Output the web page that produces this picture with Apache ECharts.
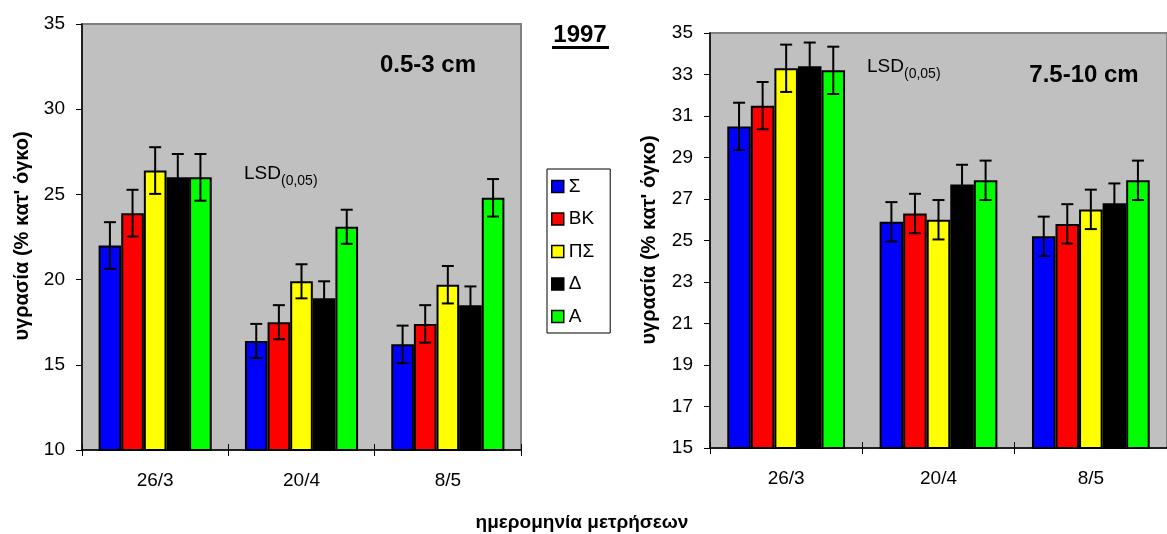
<!DOCTYPE html>
<html>
<head>
<meta charset="utf-8">
<script src="https://cdn.jsdelivr.net/npm/echarts@6/dist/echarts.min.js"></script>
<style>
html,body{margin:0;padding:0;background:#fff;}
#main{width:1167px;height:534px;}
</style>
</head>
<body>
<div id="main"></div>
<script>
// ---- data ----
const categories = ['26/3', '20/4', '8/5'];
const seriesNames = ['Σ', 'ΒΚ', 'ΠΣ', 'Δ', 'Α'];
const seriesColors = ['#0000FF', '#FF0000', '#FFFF00', '#000000', '#00FF00'];

// 0.5-3 cm
const shallowS  = [22.0, 16.4, 16.2];
const shallowBK = [23.9, 17.5, 17.4];
const shallowPS = [26.4, 19.9, 19.7];
const shallowD  = [26.0, 18.9, 18.5];
const shallowA  = [26.0, 23.1, 24.8];
const shallowLSD = [1.37, 1.0, 1.1];
const shallowTicks = [10, 15, 20, 25, 30, 35];

// 7.5-10 cm
const deepS  = [30.5, 25.9, 25.2];
const deepBK = [31.5, 26.3, 25.8];
const deepPS = [33.3, 26.0, 26.5];
const deepD  = [33.4, 27.7, 26.8];
const deepA  = [33.2, 27.9, 27.9];
const deepLSD = [1.14, 0.95, 0.95];
const deepTicks = [15, 17, 19, 21, 23, 25, 27, 29, 31, 33, 35];

const shallowValues = [shallowS, shallowBK, shallowPS, shallowD, shallowA];
const deepValues = [deepS, deepBK, deepPS, deepD, deepA];

// ---- chart ----
const FONT = "'Liberation Sans', Arial, sans-serif";
const GAP = 0.227;
const chart = echarts.init(document.getElementById('main'), null, {renderer: 'canvas'});

function makeBars(values, gridIdx) {
  return values.map((vals, i) => ({
    name: seriesNames[i],
    type: 'bar',
    xAxisIndex: gridIdx, yAxisIndex: gridIdx,
    data: vals,
    barGap: '0%',
    barCategoryGap: (GAP * 100) + '%',
    itemStyle: {color: seriesColors[i], borderColor: '#000', borderWidth: 2},
    emphasis: {disabled: true},
    z: 2
  }));
}

function makeErr(values, lsd, gridIdx) {
  return values.map((vals, i) => ({
    type: 'custom',
    xAxisIndex: gridIdx, yAxisIndex: gridIdx,
    data: vals.map((v, k) => [k, v, lsd[k]]),
    z: 5,
    silent: true,
    renderItem: function (params, api) {
      const cat = api.value(0), v = api.value(1), e = api.value(2);
      const c = api.coord([cat, v]);
      const band = api.size([1, 0])[0];
      const groupW = band * (1 - GAP);
      const bw = groupW / 5;
      const x = c[0] - groupW / 2 + (i + 0.5) * bw;
      const yt = api.coord([cat, v + e])[1];
      const yb = api.coord([cat, v - e])[1];
      const st = {stroke: '#000', lineWidth: 2};
      return {
        type: 'group',
        children: [
          {type: 'line', shape: {x1: x, y1: yt, x2: x, y2: yb}, style: st},
          {type: 'line', shape: {x1: x - 6, y1: yt, x2: x + 6, y2: yt}, style: st},
          {type: 'line', shape: {x1: x - 6, y1: yb, x2: x + 6, y2: yb}, style: st}
        ]
      };
    }
  }));
}

function xAx(gridIdx) {
  return {
    type: 'category', gridIndex: gridIdx, data: categories,
    axisLine: {lineStyle: {color: '#000', width: 1.5}},
    axisTick: {show: true, length: 6, lineStyle: {color: '#000', width: 1}},
    axisLabel: {color: '#000', fontSize: 19, fontFamily: FONT, margin: 21},
    splitLine: {show: false}
  };
}
function xAxInner(gridIdx) {
  return {
    type: 'category', gridIndex: gridIdx, data: categories, position: 'bottom',
    axisLine: {show: false},
    axisTick: {show: true, inside: true, length: 6, lineStyle: {color: '#000', width: 1}},
    axisLabel: {show: false},
    splitLine: {show: false}
  };
}
function yAx(gridIdx, min, max, ticks) {
  return {
    type: 'value', gridIndex: gridIdx, min: min, max: max,
    axisLine: {show: true, lineStyle: {color: '#000', width: 1.5}},
    axisTick: {show: true, length: 6, customValues: ticks, lineStyle: {color: '#000', width: 1}},
    axisLabel: {color: '#000', fontSize: 19, fontFamily: FONT, margin: 17, customValues: ticks},
    splitLine: {show: false}
  };
}

const boldText = (s, size) => ({text: s, fill: '#000', font: 'bold ' + size + 'px ' + FONT, align: 'center', verticalAlign: 'middle'});

const option = {
  animation: false,
  textStyle: {fontFamily: FONT},
  grid: [
    {left: 82, top: 24, width: 439, height: 426, show: true, backgroundColor: '#C0C0C0', borderColor: '#808080', borderWidth: 2, containLabel: false},
    {left: 710, top: 33, width: 464, height: 415, show: true, backgroundColor: '#C0C0C0', borderColor: '#808080', borderWidth: 2, containLabel: false}
  ],
  xAxis: [xAx(0), xAx(1), xAxInner(0), xAxInner(1)],
  yAxis: [yAx(0, 10, 35, shallowTicks), yAx(1, 15, 35, deepTicks)],
  legend: {
    data: seriesNames,
    orient: 'vertical',
    left: 547, top: 169,
    padding: [8, 16, 7, 4],
    itemGap: 13.5,
    itemWidth: 12, itemHeight: 12,
    icon: 'rect',
    itemStyle: {borderColor: '#000', borderWidth: 1.5},
    backgroundColor: '#fff',
    borderColor: '#000', borderWidth: 1, borderRadius: 0,
    selectedMode: false,
    textStyle: {color: '#000', fontSize: 19, lineHeight: 18, fontFamily: FONT}
  },
  graphic: [
    {type: 'text', x: 22, y: 236, rotation: Math.PI / 2, style: boldText('υγρασία (% κατ\' όγκο)', 20)},
    {type: 'text', x: 649, y: 240, rotation: Math.PI / 2, style: boldText('υγρασία (% κατ\' όγκο)', 20)},
    {type: 'text', x: 582, y: 523, style: boldText('ημερομηνία μετρήσεων', 19)},
    {type: 'text', x: 580, y: 35, style: boldText('1997', 24)},
    {type: 'line', shape: {x1: 552, y1: 47.5, x2: 609, y2: 47.5}, style: {stroke: '#000', lineWidth: 3}},
    {type: 'text', x: 428, y: 65, z: 10, style: boldText('0.5-3 cm', 24)},
    {type: 'text', x: 1084, y: 75, z: 10, style: boldText('7.5-10 cm', 24)},
    {type: 'text', x: 244, y: 174, z: 10, style: {text: 'LSD', fill: '#000', font: '19px ' + FONT, align: 'left', verticalAlign: 'middle'}},
    {type: 'text', x: 281, y: 181, z: 10, style: {text: '(0,05)', fill: '#000', font: '14px ' + FONT, align: 'left', verticalAlign: 'middle'}},
    {type: 'text', x: 867, y: 67, z: 10, style: {text: 'LSD', fill: '#000', font: '19px ' + FONT, align: 'left', verticalAlign: 'middle'}},
    {type: 'text', x: 904, y: 74, z: 10, style: {text: '(0,05)', fill: '#000', font: '14px ' + FONT, align: 'left', verticalAlign: 'middle'}}
  ],
  series: [].concat(
    makeBars(shallowValues, 0),
    makeBars(deepValues, 1),
    makeErr(shallowValues, shallowLSD, 0),
    makeErr(deepValues, deepLSD, 1)
  )
};
chart.setOption(option);
</script>
</body>
</html>
